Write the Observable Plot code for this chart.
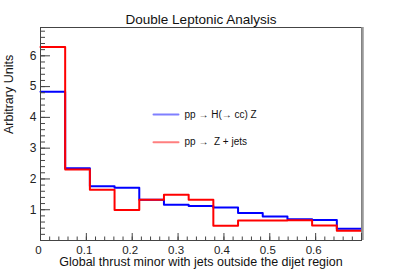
<!DOCTYPE html>
<html><head><meta charset="utf-8">
<script src="https://cdn.jsdelivr.net/npm/d3@7"></script>
<script src="https://cdn.jsdelivr.net/npm/@observablehq/plot@0.6"></script>
<style>body{margin:0;background:#fff;} svg{display:block}</style>
</head><body><div id="chart"></div>
<script>
const binEdges = [0, 0.0538, 0.1077, 0.1615, 0.2154, 0.2692, 0.3231, 0.3769, 0.4308, 0.4846, 0.5385, 0.5923, 0.6462, 0.7];
const signal = [4.83, 2.35, 1.76, 1.71, 1.32, 1.16, 1.12, 1.07, 0.89, 0.78, 0.69, 0.67, 0.38];
const background = [6.29, 2.31, 1.65, 0.99, 1.32, 1.49, 1.32, 0.48, 0.65, 0.65, 0.66, 0.49, 0.32];
const seriesNames = ["pp \u2192 H(\u2192 cc) Z", "pp \u2192  Z + jets"];
const xTickLabels = [0, 0.1, 0.2, 0.3, 0.4, 0.5, 0.6];
const xMajorTicks = [0.1, 0.2, 0.3, 0.4, 0.5, 0.6, 0.7];
const yTickLabels = [1, 2, 3, 4, 5, 6];
const title = "Double Leptonic Analysis";
const xLabel = "Global thrust minor with jets outside the dijet region";
const yLabel = "Arbitrary Units";

const xMinor = d3.range(0.02, 0.7, 0.02);
const yMinor = d3.range(0.2, 6.9, 0.2);

function steps(vals) {
  const pts = vals.map((v, i) => ({x: binEdges[i], y: v}));
  pts.push({x: binEdges[binEdges.length - 1], y: vals[vals.length - 1]});
  return pts;
}
const lineShape = {draw(context, l) { context.moveTo(0, 0); context.lineTo(0, -l); }};
const font = "Liberation Sans, Arial, Helvetica, sans-serif";

const chart = Plot.plot({
  width: 401,
  height: 273,
  marginLeft: 40,
  marginRight: 40,
  marginTop: 27,
  marginBottom: 33,
  style: {fontFamily: font, background: "#fff", color: "#222"},
  x: {domain: [0, 0.7]},
  y: {domain: [0, 6.92]},
  marks: [
    Plot.line(steps(signal), {x: "x", y: "y", curve: "step-after", stroke: "#0000ff", strokeWidth: 2}),
    Plot.line(steps(background), {x: "x", y: "y", curve: "step-after", stroke: "#ff0000", strokeWidth: 2}),
    Plot.frame({stroke: "#444"}),
    Plot.ruleX([0.7], {stroke: "#999", strokeWidth: 2.5, dx: 1}),
    Plot.axisX(xMinor, {tickSize: -3.5, tickFormat: () => "", label: null, stroke: "#444"}),
    Plot.axisX(xMajorTicks, {tickSize: -7, tickFormat: () => "", label: null, stroke: "#444"}),
    Plot.axisX(xTickLabels, {tickSize: 0, tickPadding: 5, fontSize: 11.5, dx: -2, label: null,
      tickFormat: d => d === 0 ? "0" : d.toFixed(1), fill: "#222"}),
    Plot.axisY(yMinor, {tickSize: -5, tickFormat: () => "", label: null, stroke: "#444"}),
    Plot.axisY(yTickLabels, {tickSize: -10, tickFormat: () => "", label: null, stroke: "#444"}),
    Plot.axisY(yTickLabels, {tickSize: 0, tickPadding: 4, fontSize: 12, label: null, fill: "#222"}),
    Plot.text([title], {frameAnchor: "top", lineAnchor: "bottom", dy: -3.5, fontSize: 13.5, fill: "#111"}),
    Plot.text([xLabel], {frameAnchor: "bottom", lineAnchor: "bottom", dy: 25, fontSize: 12.5, fill: "#111"}),
    Plot.text([yLabel], {frameAnchor: "left", rotate: -90, lineAnchor: "middle", dx: -32, fontSize: 12.5, fill: "#111"}),
    Plot.vector([seriesNames[0]], {frameAnchor: "top-left", dx: 113, dy: 87, length: 25, rotate: 90, anchor: "start",
      shape: lineShape, stroke: "#0000ff", strokeOpacity: 0.5, strokeWidth: 2}),
    Plot.vector([seriesNames[1]], {frameAnchor: "top-left", dx: 113, dy: 114.7, length: 25, rotate: 90, anchor: "start",
      shape: lineShape, stroke: "#ff0000", strokeOpacity: 0.5, strokeWidth: 2}),
    Plot.text([seriesNames[0]], {frameAnchor: "top-left", textAnchor: "start", lineAnchor: "middle", dx: 144, dy: 87, fontSize: 10, fill: "#111"}),
    Plot.text([seriesNames[1]], {frameAnchor: "top-left", textAnchor: "start", lineAnchor: "middle", dx: 144, dy: 114.7, fontSize: 10, fill: "#111"})
  ]
});
document.getElementById("chart").appendChild(chart);
</script>
</body></html>
